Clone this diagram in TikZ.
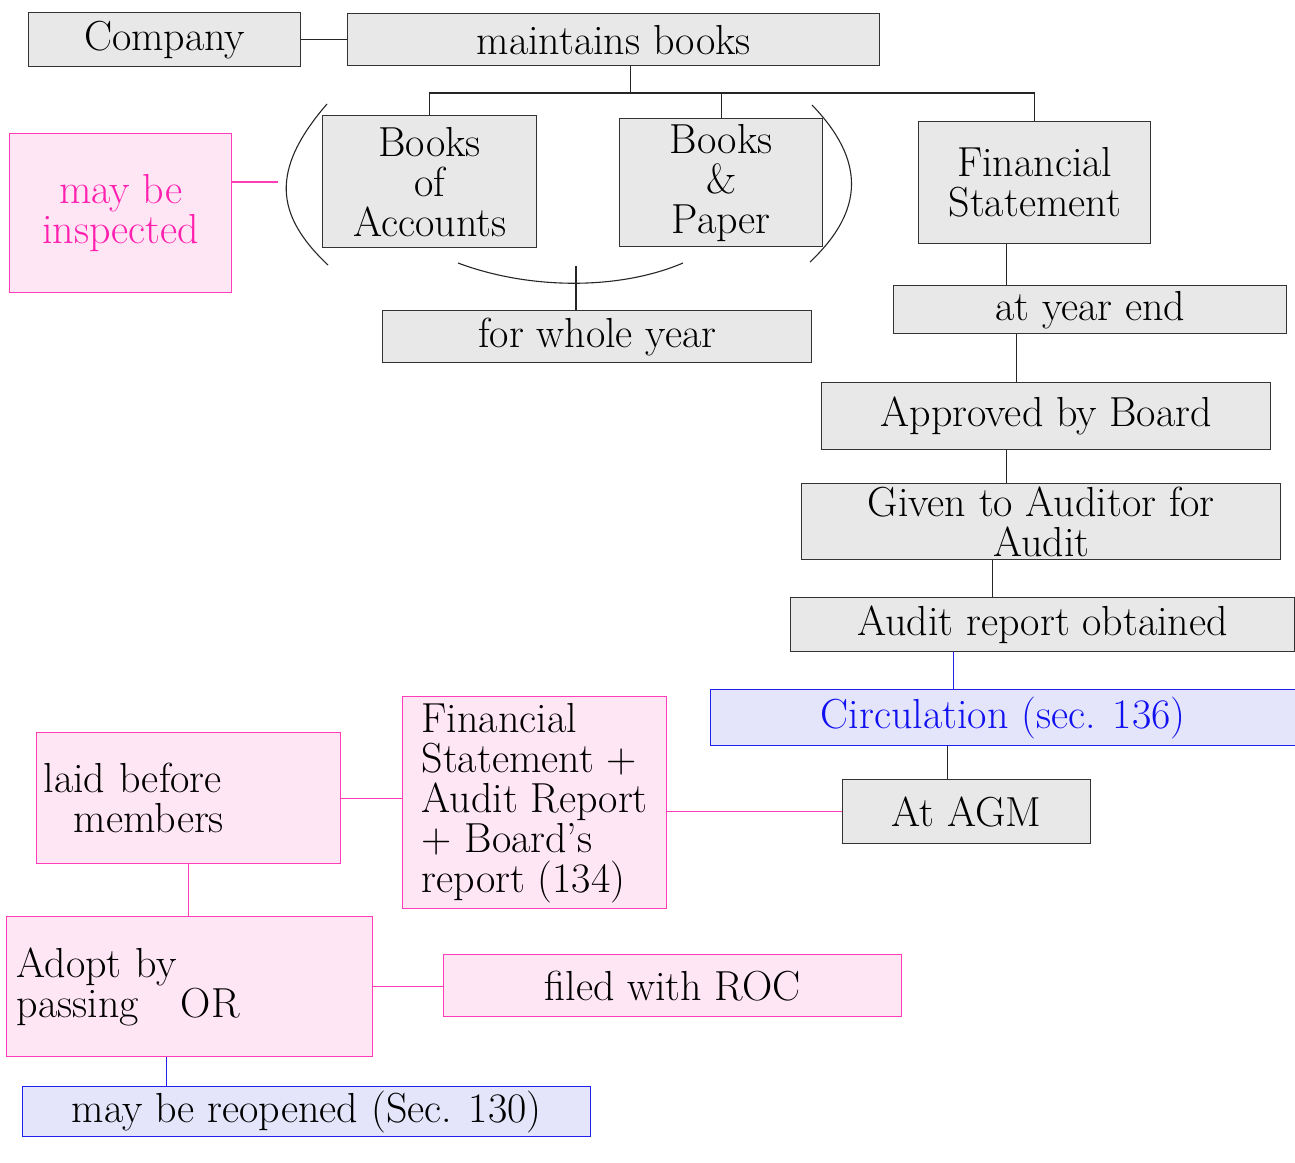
\documentclass[tikz,border=0pt]{standalone}
\usepackage{tikz}
\usepackage{xcolor}
\usetikzlibrary{positioning}

\definecolor{pinkline}{HTML}{FF3DB8}
\definecolor{pinkfill}{HTML}{FFE6F4}
\definecolor{pinktext}{HTML}{FF20B0}
\definecolor{blueline}{HTML}{2020F0}
\definecolor{bluefill}{HTML}{E4E4FA}
\definecolor{bluetext}{HTML}{1010F0}

\begin{document}
\begin{tikzpicture}[
  x=1pt, y=-1pt,
  font=\fontsize{42}{40}\selectfont,
  greybox/.style={draw=black!80, fill=black!9, line width=1.4pt, inner sep=3pt, align=center, anchor=north west},
  pinkbox/.style={greybox, draw=pinkline, fill=pinkfill},
  bluebox/.style={greybox, draw=blueline, fill=bluefill},
  size/.style 2 args={minimum width=#1, minimum height=#2},
  link/.style={draw=black!85, line width=1.1pt},
  pinklink/.style={draw=pinkline, line width=1.1pt},
  bluelink/.style={draw=blueline, line width=1.1pt}
]
\useasboundingbox (0,0) rectangle (1295,1162);

\node[greybox, size={272}{54}] (company) at (28,12) {Company};
\node[greybox, size={532}{52}] (books) at (347,13) {maintains books};
\node[greybox, size={214}{132}] (bacc) at (322,115) {Books\\of\\Accounts};
\node[greybox, size={203}{128}] (bpap) at (619,118) {Books\\\&\\Paper};
\node[greybox, size={232}{122}] (fs) at (918,121) {Financial\\Statement};
\node[pinkbox, size={222}{159}, text=pinktext] (inspect) at (9,133) {may be\\inspected};
\node[greybox, size={429}{52}] (whole) at (382,310) {for whole year};
\node[greybox, size={393}{48}] (yearend) at (893,285) {at year end};
\node[greybox, size={449}{67}] (board) at (821,382) {Approved by Board};
\node[greybox, size={479}{75}] (auditor) at (801,483) {Given to Auditor for\\Audit};
\node[greybox, size={504}{54}] (report) at (790,597) {Audit report obtained};
\node[bluebox, size={585}{56}, text=bluetext] (circ) at (710,689) {Circulation (sec. 136)};
\node[greybox, size={248}{64}] (agm) at (842,779) {At AGM};
\node[pinkbox, size={264}{212}, align=left] (fsar) at (402,696) {Financial\\Statement +\\Audit Report\\+ Board's\\ report (134)};
\node[pinkbox, size={304}{131}, text width=290, inner xsep=7pt, align=left] (laid) at (36,732) {laid before\\\hspace{30pt}members};
\node[pinkbox, size={366}{140}, text width=346, inner xsep=10pt, align=left] (adopt) at (6,916) {Adopt by\\passing\quad OR};
\node[pinkbox, size={458}{62}] (filed) at (443,954) {filed with ROC};
\node[bluebox, size={568}{50}] (reopen) at (22,1086) {may be reopened (Sec. 130)};

\coordinate (bus) at (630,93);
\coordinate (brace) at (576,266);
\coordinate (lbr) at (278,182);

\draw[link] (company) -- (books);
\draw[link] ([xshift=17pt]books.south) -- ([xshift=17pt]books.south |- bus);
\draw[link] (bacc.north) |- (bus) -| (fs.north);
\draw[link] (bpap.north) -- (bpap.north |- bus);

\draw[link] (327,104) .. controls (270,170) and (275,215) .. (328,265);
\draw[link] (812,105) .. controls (865,160) and (865,210) .. (810,262);
\draw[link] (458,263) .. controls (530,290) and (620,290) .. (683,263);
\draw[link] (brace) -- (brace |- whole.north);
\draw[pinklink] (inspect.east |- lbr) -- (lbr);

\draw[link] ([xshift=-28pt]fs.south) -- ([xshift=-28pt]fs.south |- yearend.north);
\draw[link] ([xshift=-30pt]board.north |- yearend.south) -- ([xshift=-30pt]board.north);
\draw[link] ([xshift=-35pt]auditor.north |- board.south) -- ([xshift=-35pt]auditor.north);
\draw[link] ([xshift=-50pt]report.north |- auditor.south) -- ([xshift=-50pt]report.north);
\draw[bluelink] ([xshift=-50pt]circ.north |- report.south) -- ([xshift=-50pt]circ.north);
\draw[link] ([xshift=-19pt]agm.north |- circ.south) -- ([xshift=-19pt]agm.north);

\draw[pinklink] (agm.west) -- (agm.west -| fsar.east);
\draw[pinklink] (laid.east) -- (laid.east -| fsar.west);
\draw[pinklink] (laid.south) -- (laid.south |- adopt.north);
\draw[pinklink] (adopt.east) -- (adopt.east -| filed.west);
\draw[bluelink] ([xshift=-23pt]adopt.south) -- ([xshift=-23pt]adopt.south |- reopen.north);
\end{tikzpicture}
\end{document}
